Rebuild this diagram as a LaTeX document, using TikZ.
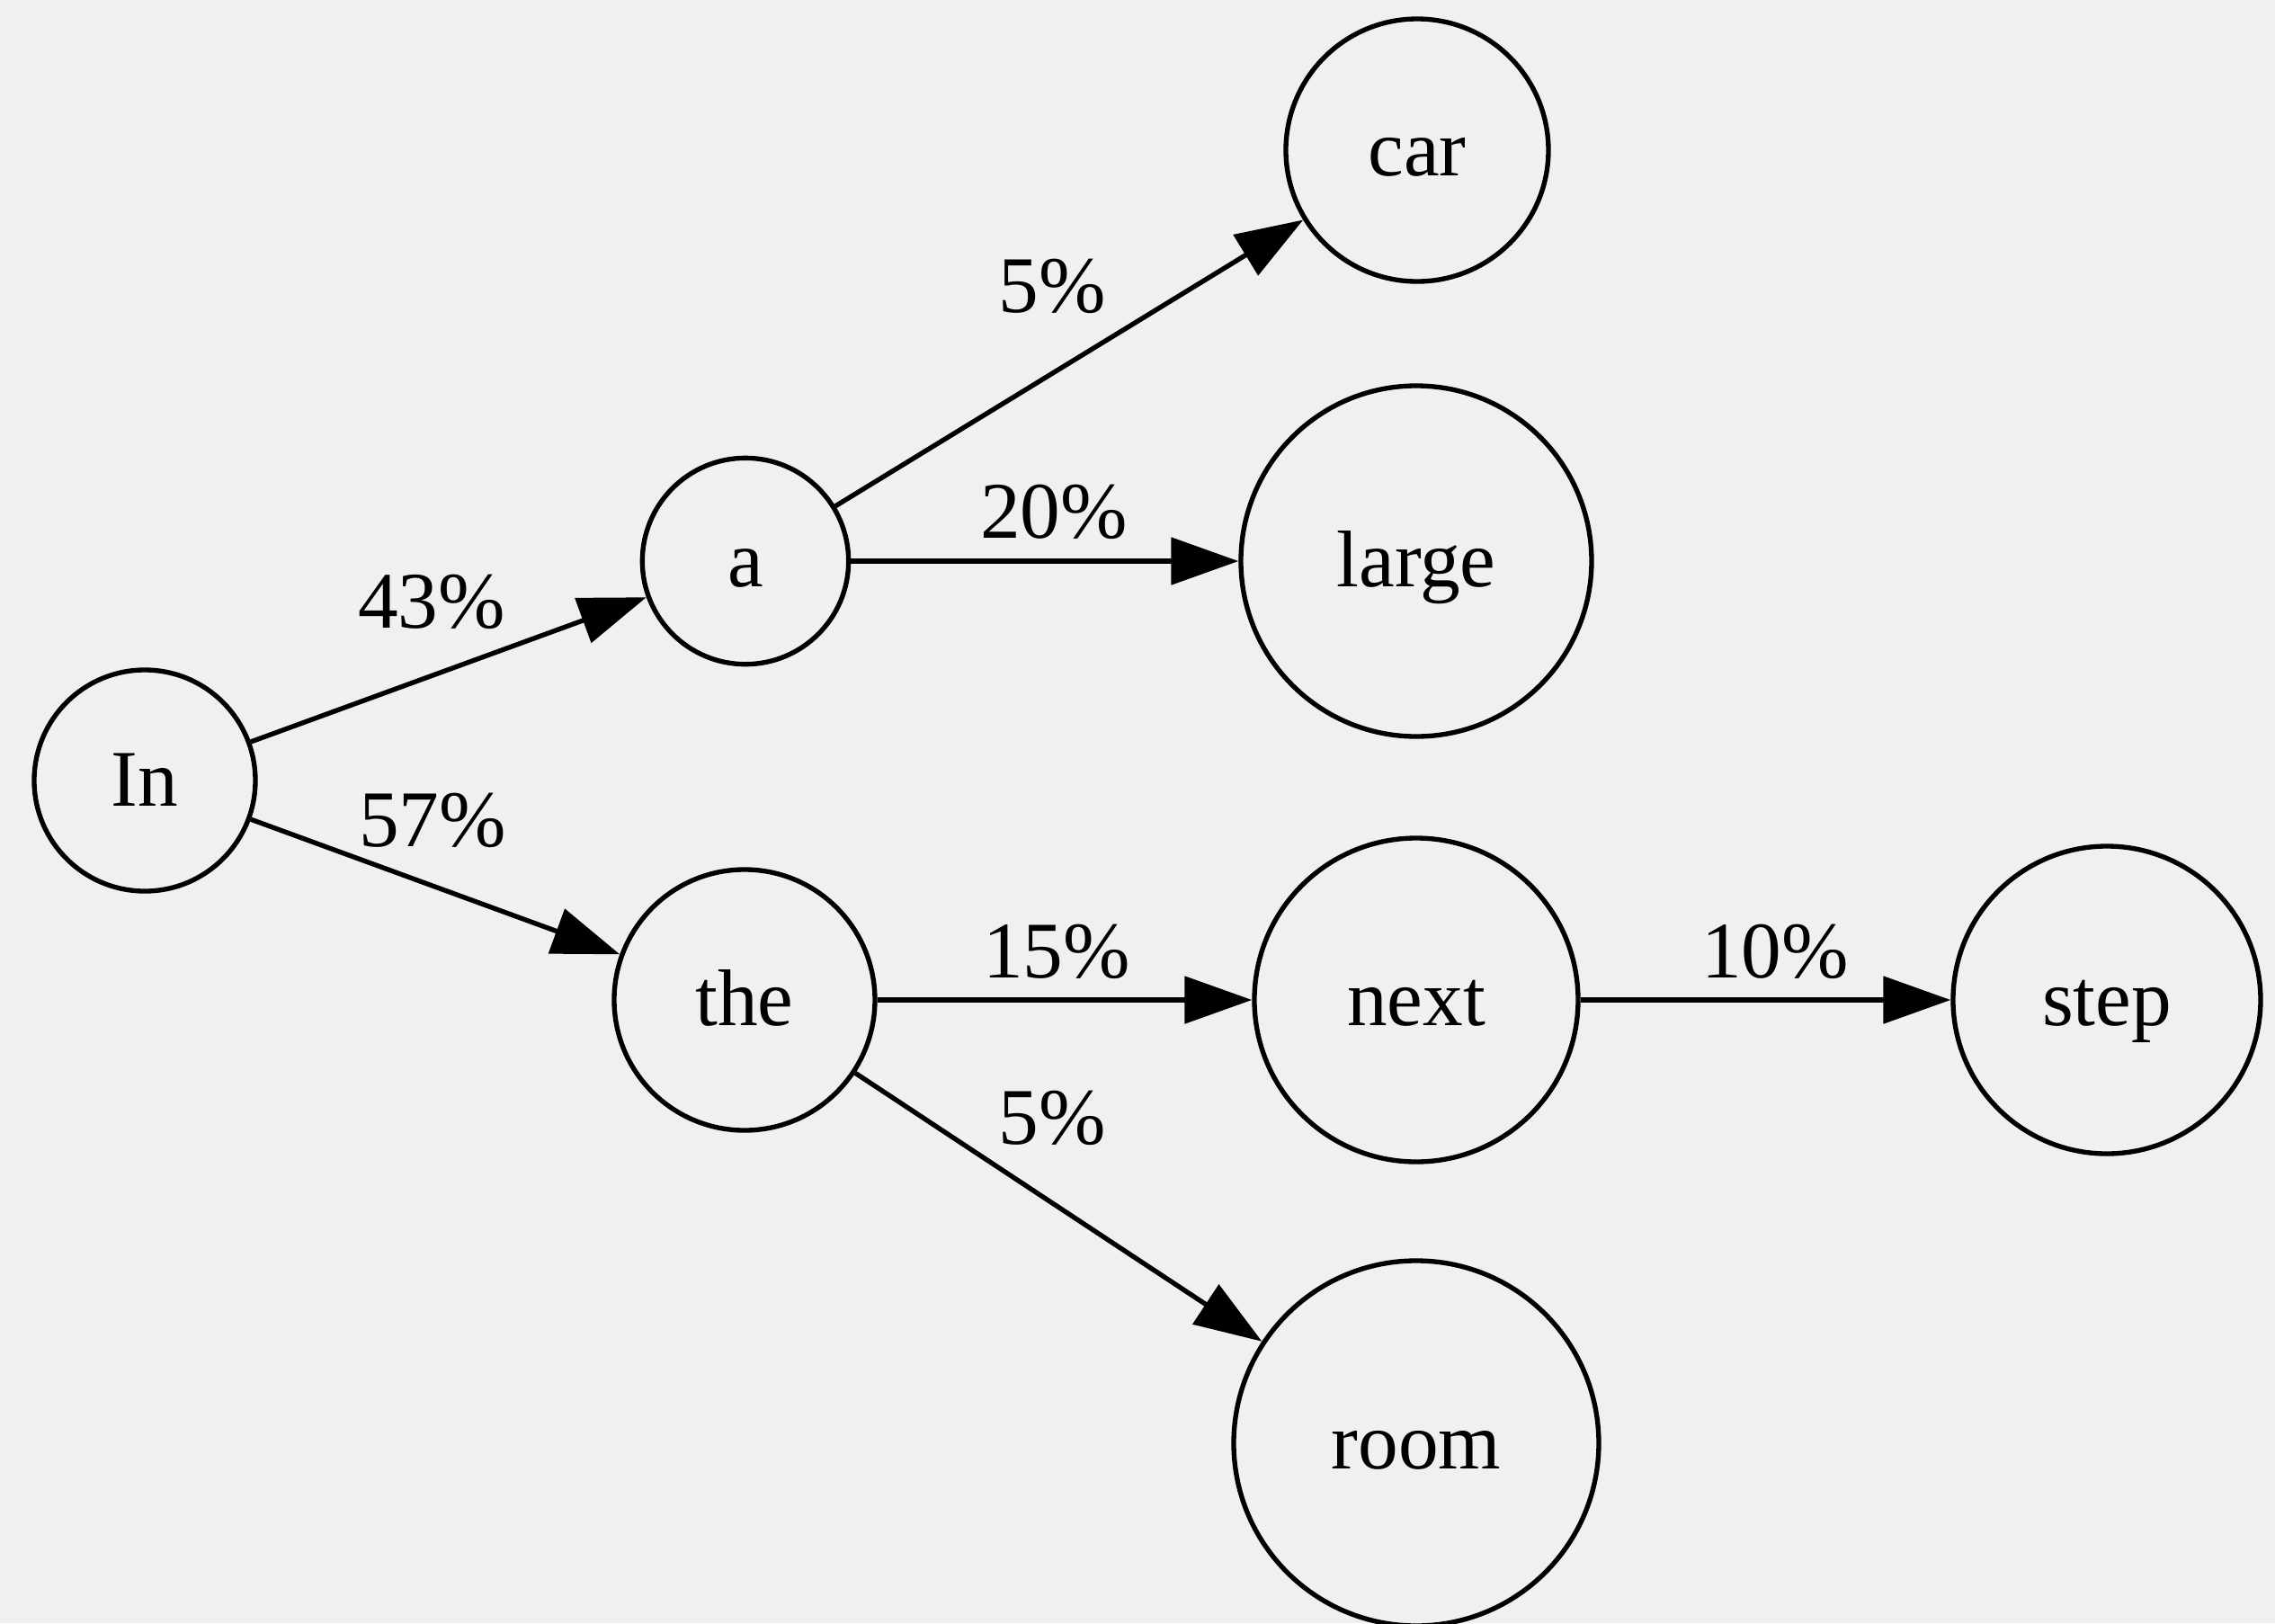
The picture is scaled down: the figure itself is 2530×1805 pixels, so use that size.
\documentclass[tikz,border=0pt]{standalone}
\usepackage{fontspec}
\setmainfont{Liberation Serif}
\usetikzlibrary{arrows.meta}
\definecolor{paper}{RGB}{239,240,242}
\tikzset{
  word/.style={circle, draw=black, line width=0.8pt, inner sep=0pt,
    font=\fontsize{13.4}{16}\selectfont, text height=9pt, text depth=0.6pt},
  edge/.style={line width=0.8pt, -{Triangle[length=11.25pt,width=7.8pt]}},
  lbl/.style={anchor=base, inner sep=0pt, font=\fontsize{13.4}{16}\selectfont}
}
\begin{document}
\begin{tikzpicture}[x=0.15pt, y=-0.15pt]
  % canvas
  \fill[paper] (0,0) rectangle (2530,1805);
  \useasboundingbox (0,0) rectangle (2530,1805);

  % word nodes
  \node[word, minimum size=36.9pt] (In)    at (161,868)  {In};
  \node[word, minimum size=34.4pt] (a)     at (829,624)  {a};
  \node[word, minimum size=43.5pt] (the)   at (828,1112) {the};
  \node[word, minimum size=43.8pt] (car)   at (1576,167) {car};
  \node[word, minimum size=58.5pt] (large) at (1575,624) {large};
  \node[word, minimum size=54pt]   (next)  at (1575,1112) {next};
  \node[word, minimum size=60.9pt] (room)  at (1575,1605) {room};
  \node[word, minimum size=51.3pt] (step)  at (2343,1112) {step};

  % transitions with probabilities
  \draw[edge] (In) -- (a)        node[lbl] (p43) at (480,698)  {43\%};
  \draw[edge] (In) -- (the)      node[lbl] (p57) at (481,941)  {57\%};
  \draw[edge] (a) -- (car)       node[lbl] (p5a) at (1170,347) {5\%};
  \draw[edge] (a) -- (large)     node[lbl] (p20) at (1172,598) {20\%};
  \draw[edge] (the) -- (next)    node[lbl] (p15) at (1175,1087) {15\%};
  \draw[edge] (the) -- (room)    node[lbl] (p5b) at (1170,1272) {5\%};
  \draw[edge] (next) -- (step)   node[lbl] (p10) at (1974,1087) {10\%};
\end{tikzpicture}
\end{document}
